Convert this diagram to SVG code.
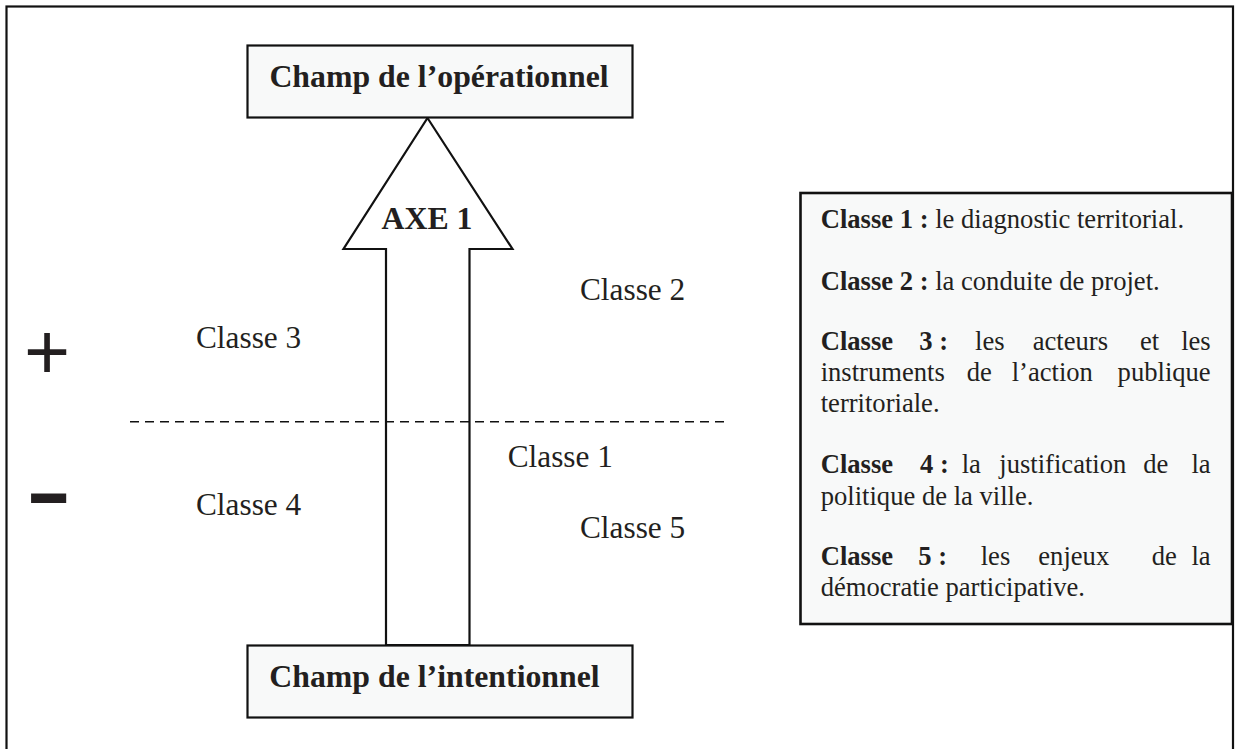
<svg xmlns="http://www.w3.org/2000/svg" width="1239" height="749" viewBox="0 0 1239 749">
<style>
.box{fill:#f8f9f9;stroke:#111;stroke-width:2.2}
.title{font-family:"Liberation Serif","Times New Roman",serif;font-weight:bold;font-size:31.8px;fill:#231f20}
.lbl{font-family:"Liberation Serif","Times New Roman",serif;font-size:31.3px;fill:#231f20}
.leg{font-family:"Liberation Serif","Times New Roman",serif;font-size:26.6px;fill:#231f20}
.b{font-weight:bold}
</style>
<rect width="1239" height="749" fill="#fff"/>
<rect id="frame" x="6.5" y="6.5" width="1226.5" height="760" fill="none" stroke="#111" stroke-width="2.2"/>
<g id="connectors">
  <polygon id="axe1-arrow" points="427.5,118 512.5,249 469.5,249 469.5,645 386,645 386,249 343.5,249" fill="#fff" stroke="#111" stroke-width="2.2" stroke-linejoin="miter"/>
  <line id="divider" x1="130" y1="421.7" x2="727" y2="421.7" stroke="#111" stroke-width="1.6" stroke-dasharray="9 6"/>
</g>
<g id="node-operationnel">
  <rect class="box" x="247.5" y="45.5" width="385" height="72"/>
  <text class="title" x="439" y="86.7" text-anchor="middle">Champ de l’opérationnel</text>
</g>
<g id="node-intentionnel">
  <rect class="box" x="247.5" y="645.5" width="385" height="72"/>
  <text class="title" x="434.5" y="687.3" text-anchor="middle">Champ de l’intentionnel</text>
</g>
<g id="axe-label">
  <text class="title" x="427" y="229.3" text-anchor="middle">AXE 1</text>
</g>
<g id="signs">
  <text x="47" y="379" text-anchor="middle" font-family="Liberation Sans, Arial, sans-serif" font-size="79" fill="#231f20">+</text>
  <text x="48.5" y="519" text-anchor="middle" font-family="Liberation Sans, Arial, sans-serif" font-size="62" fill="#231f20" stroke="#231f20" stroke-width="5">−</text>
</g>
<g id="classes">
  <text class="lbl" x="196" y="347.7">Classe 3</text>
  <text class="lbl" x="196" y="515">Classe 4</text>
  <text class="lbl" x="580" y="300">Classe 2</text>
  <text class="lbl" x="507.7" y="467.3">Classe 1</text>
  <text class="lbl" x="580" y="538.3">Classe 5</text>
</g>
<g id="legend">
  <rect x="800.5" y="193" width="431.5" height="431" fill="#f8f9f9" stroke="#111" stroke-width="2.6"/>
  <text class="leg" x="820.7" y="228.3"><tspan class="b">Classe 1 :</tspan> le diagnostic territorial.</text>
  <text class="leg" x="820.7" y="290"><tspan class="b">Classe 2 :</tspan> la conduite de projet.</text>
  <text class="leg" y="350"><tspan class="b" x="820.7">Classe</tspan><tspan class="b" x="919.3">3 :</tspan><tspan x="975">les</tspan><tspan x="1032.7">acteurs</tspan><tspan x="1140">et</tspan><tspan x="1210.7" text-anchor="end">les</tspan></text>
  <text class="leg" y="380.7"><tspan x="820.7">instruments</tspan><tspan x="966.7">de</tspan><tspan x="1011.7">l’action</tspan><tspan x="1210.7" text-anchor="end">publique</tspan></text>
  <text class="leg" x="820.7" y="411.7">territoriale.</text>
  <text class="leg" y="473.3"><tspan class="b" x="820.7">Classe</tspan><tspan class="b" x="920">4 :</tspan><tspan x="961.7">la</tspan><tspan x="999.3">justification</tspan><tspan x="1143.3">de</tspan><tspan x="1210.7" text-anchor="end">la</tspan></text>
  <text class="leg" x="820.7" y="505">politique de la ville.</text>
  <text class="leg" y="565"><tspan class="b" x="820.7">Classe</tspan><tspan class="b" x="918.3">5 :</tspan><tspan x="980.7">les</tspan><tspan x="1038.3">enjeux</tspan><tspan x="1151.7">de</tspan><tspan x="1210.7" text-anchor="end">la</tspan></text>
  <text class="leg" x="820.7" y="595.7">démocratie participative.</text>
</g>
</svg>
